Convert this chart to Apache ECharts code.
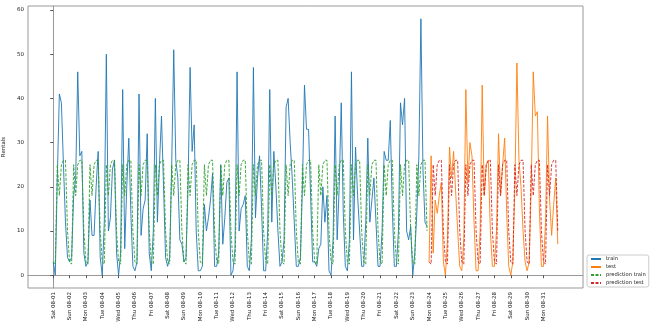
<!DOCTYPE html>
<html>
<head>
<meta charset="utf-8">
<script src="https://cdn.jsdelivr.net/npm/echarts@6/dist/echarts.min.js"></script>
<style>
html,body{margin:0;padding:0;background:#fff;}
#chart{width:650px;height:329px;}
</style>
</head>
<body>
<div id="chart"></div>
<script>
// Date tick labels (one per day, every 8 three-hour samples)
const dateLabels = ['Sat 08-01','Sun 08-02','Mon 08-03','Tue 08-04','Wed 08-05','Thu 08-06','Fri 08-07','Sat 08-08','Sun 08-09','Mon 08-10','Tue 08-11','Wed 08-12','Thu 08-13','Fri 08-14','Sat 08-15','Sun 08-16','Mon 08-17','Tue 08-18','Wed 08-19','Thu 08-20','Fri 08-21','Sat 08-22','Sun 08-23','Mon 08-24','Tue 08-25','Wed 08-26','Thu 08-27','Fri 08-28','Sat 08-29','Sun 08-30','Mon 08-31'];
const xTickPositions = [0,8,16,24,32,40,48,56,64,72,80,88,96,104,112,120,128,136,144,152,160,168,176,184,192,200,208,216,224,232,240];
const yTicks = [0,10,20,30,40,50,60];

// Observed rentals, training part (3-hour bins)
const trainVals = [
  3,0,22,41,39,25,12,4,
  3,4,18,22,46,27,28,5,
  2,3,17,9,9,20,28,4,
  0,12,50,10,13,24,26,5,
  0,5,42,6,20,31,14,2,
  1,3,41,9,15,17,32,5,
  1,10,40,12,25,36,20,4,
  2,4,25,51,26,22,8,7,
  3,4,20,47,28,34,10,1,
  1,2,16,10,13,17,23,2,
  2,5,25,7,13,21,22,0,
  1,6,46,10,15,16,18,2,
  1,8,47,13,22,27,15,1,
  1,10,42,12,28,20,10,2,
  3,8,38,40,30,22,12,2,
  2,4,20,43,33,33,18,3,
  3,2,6,7,20,12,18,1,
  0,8,36,8,20,39,14,2,
  1,8,46,8,29,18,10,2,
  2,12,31,12,17,22,12,2,
  2,10,28,26,26,35,15,2,
  2,10,39,34,40,10,8,11,
  0,5,14,27,58,24,12,11
];
// Observed rentals, test part
const testVals = [
  3,27,5,17,14,18,21,3,
  0,8,29,22,28,19,10,2,
  1,8,42,21,30,27,12,1,
  1,10,43,18,25,26,10,2,
  2,10,32,18,25,31,14,2,
  0,3,20,48,26,20,10,3,
  1,3,20,46,36,37,15,2,
  2,12,36,17,9,16,22,7
];
// Model predictions (hour-of-day model)
const predTrainVals = [
  3,2.5,25,18,25,26,26,10, 3,2.5,25,18,25,26,26,10, 3,2.5,25,18,25,26,26,10,
  3,2.5,25,18,25,26,26,10, 3,2.5,25,18,25,26,26,10, 3,2.5,25,18,25,26,26,10,
  3,2.5,25,18,25,26,26,10, 3,2.5,25,18,25,26,26,10, 3,2.5,25,18,25,26,26,10,
  3,2.5,25,18,25,26,26,10, 3,2.5,25,18,25,26,26,10, 3,2.5,25,18,25,26,26,10,
  3,2.5,25,18,25,26,26,10, 3,2.5,25,18,25,26,26,10, 3,2.5,25,18,25,26,26,10,
  3,2.5,25,18,25,26,26,10, 3,2.5,25,18,25,26,26,10, 3,2.5,25,18,25,26,26,10,
  3,2.5,25,18,25,26,26,10, 3,2.5,25,18,25,26,26,10, 3,2.5,25,18,25,26,26,10,
  3,2.5,25,18,25,26,26,10, 3,2.5,25,18,25,26,26,10
];
const predTestVals = [
  3,2.5,25,18,25,26,26,10, 3,2.5,25,18,25,26,26,10, 3,2.5,25,18,25,26,26,10,
  3,2.5,25,18,25,26,26,10, 3,2.5,25,18,25,26,26,10, 3,2.5,25,18,25,26,26,10,
  3,2.5,25,18,25,26,26,10, 3,2.5,25,18,25,26,26,10
];

const nTrain = trainVals.length;
const toPts = (arr, off) => arr.map((v, i) => [i + off, v]);
const FS = 5.5;
const txt = '#222';
const LW = 0.9;

const chart = echarts.init(document.getElementById('chart'), null, {renderer: 'canvas'});
chart.setOption({
  animation: false,
  backgroundColor: '#fff',
  textStyle: {fontFamily: 'DejaVu Sans'},
  grid: {left: 28, right: 67, top: 6, bottom: 41, show: true, borderColor: '#999', borderWidth: 1, containLabel: false, outerBoundsMode: 'none'},
  legend: {
    orient: 'vertical', left: 587, top: 255,
    itemWidth: 10, itemHeight: 6, itemGap: 2,
    padding: [1, 3, 1, 3],
    borderColor: '#ccc', borderWidth: 1, borderRadius: 2,
    itemStyle: {opacity: 0},
    textStyle: {fontSize: 5.2, color: txt, lineHeight: 6},
    data: ['train', 'test', 'prediction train', 'prediction test']
  },
  xAxis: {
    type: 'value', min: -12.35, max: 259.35,
    name: 'Date', nameLocation: 'middle', nameGap: 33,
    nameTextStyle: {fontSize: 5.5, color: txt},
    axisLine: {show: true, lineStyle: {color: '#999', width: 1}},
    axisTick: {show: true, length: 3, customValues: xTickPositions, lineStyle: {color: '#555'}},
    axisLabel: {
      customValues: xTickPositions, rotate: 90, margin: 4, fontSize: FS, color: txt,
      formatter: v => dateLabels[Math.round(v / 8)]
    },
    splitLine: {show: false}
  },
  yAxis: {
    type: 'value', min: -2.9, max: 60.9,
    name: 'Rentals', nameLocation: 'middle', nameGap: 13, nameRotate: 90,
    nameTextStyle: {fontSize: 5.5, color: txt},
    axisLine: {show: true, lineStyle: {color: '#999', width: 1}},
    axisTick: {show: true, length: 3, customValues: yTicks, lineStyle: {color: '#555'}},
    axisLabel: {customValues: yTicks, margin: 4, fontSize: FS, color: txt},
    splitLine: {show: false}
  },
  series: [
    {name: 'train', type: 'line', data: toPts(trainVals, 0), symbol: 'none', color: '#1f77b4', lineStyle: {width: LW, color: '#1f77b4'}},
    {name: 'test', type: 'line', data: toPts(testVals, nTrain), symbol: 'none', color: '#ff7f0e', lineStyle: {width: LW, color: '#ff7f0e'}},
    {name: 'prediction train', type: 'line', data: toPts(predTrainVals, 0), symbol: 'none', color: '#2ca02c', lineStyle: {width: LW, color: '#2ca02c', type: [3, 1.5]}},
    {name: 'prediction test', type: 'line', data: toPts(predTestVals, nTrain), symbol: 'none', color: '#d62728', lineStyle: {width: LW, color: '#d62728', type: [3, 1.5]}}
  ]
});
</script>
</body>
</html>
